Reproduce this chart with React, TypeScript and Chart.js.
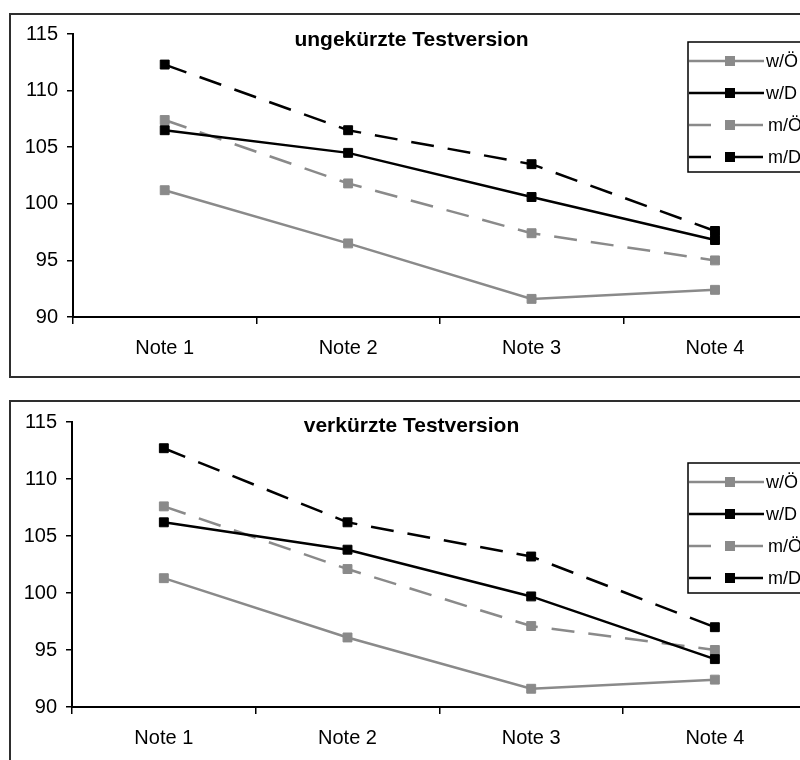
import React, { useEffect, useRef } from 'react';
import { Chart, registerables } from 'chart.js';

Chart.register(...registerables);

// Categories and series names
const categories = ['Note 1', 'Note 2', 'Note 3', 'Note 4'];
const seriesNames = ['w/Ö', 'w/D', 'm/Ö', 'm/D'];
const yMin = 90;
const yMax = 115;
const yStep = 5;

// ungekürzte Testversion
const fullWOe = [101.2, 96.5, 91.6, 92.4];
const fullWD = [106.5, 104.5, 100.6, 96.8];
const fullMOe = [107.4, 101.8, 97.4, 95.0];
const fullMD = [112.3, 106.5, 103.5, 97.6];

// verkürzte Testversion
const shortWOe = [101.3, 96.1, 91.6, 92.4];
const shortWD = [106.2, 103.8, 99.7, 94.2];
const shortMOe = [107.6, 102.1, 97.1, 95.0];
const shortMD = [112.7, 106.2, 103.2, 97.0];

const GRAY = '#8a8a8a';
const BLACK = '#000000';
const DASH = [23, 14];
const FONT = '"Liberation Sans", Arial, Helvetica, sans-serif';

const seriesStyles = [
  { color: GRAY, dash: [] as number[] },
  { color: BLACK, dash: [] as number[] },
  { color: GRAY, dash: DASH },
  { color: BLACK, dash: DASH },
];

type Layout = {
  width: number;
  height: number;
  plotLeft: number;
  plotTop: number;
  plotBottom: number;
  plotRight: number;
  titleY: number;
  legendX: number;
  legendY: number;
};

// Frame, title and boxed legend drawn around the plot
const framePlugin = {
  id: 'frame',
  beforeDraw(chart: any) {
    const { ctx, width, height } = chart;
    ctx.save();
    ctx.fillStyle = '#ffffff';
    ctx.fillRect(0, 0, width, height);
    ctx.strokeStyle = '#2e2e2e';
    ctx.lineWidth = 2;
    ctx.strokeRect(1, 1, width - 2, height - 2);
    ctx.restore();
  },
  afterDraw(chart: any, _args: any, opts: any) {
    const { ctx } = chart;
    ctx.save();
    ctx.font = `bold 21px ${FONT}`;
    ctx.fillStyle = '#000';
    ctx.textAlign = 'center';
    ctx.textBaseline = 'middle';
    ctx.fillText(opts.text, chart.width / 2, opts.titleY);

    const lx = opts.legendX;
    const ly = opts.legendY;
    ctx.fillStyle = '#fff';
    ctx.fillRect(lx, ly, 160, 130);
    ctx.strokeStyle = '#000';
    ctx.lineWidth = 1.5;
    ctx.strokeRect(lx, ly, 160, 130);

    chart.data.datasets.forEach((ds: any, i: number) => {
      const y = ly + 19 + i * 32;
      ctx.strokeStyle = ds.borderColor;
      ctx.lineWidth = ds.borderWidth;
      ctx.setLineDash([]);
      const dashed = ds.borderDash && ds.borderDash.length > 0;
      const segs = dashed ? [[1, 23], [46, 75]] : [[1, 76]];
      segs.forEach(([a, b]) => {
        ctx.beginPath();
        ctx.moveTo(lx + a, y);
        ctx.lineTo(lx + b, y);
        ctx.stroke();
      });
      ctx.fillStyle = ds.pointBackgroundColor;
      ctx.fillRect(lx + 42 - 5, y - 5, 10, 10);
      ctx.fillStyle = '#000';
      ctx.font = `18px ${FONT}`;
      ctx.textAlign = 'left';
      ctx.textBaseline = 'middle';
      ctx.fillText(ds.label, lx + (dashed ? 80 : 78), y + 1);
    });
    ctx.restore();
  },
};

function Panel({ title, series, layout, top }: { title: string; series: number[][]; layout: Layout; top: number }) {
  const ref = useRef<HTMLCanvasElement | null>(null);

  useEffect(() => {
    if (!ref.current) return;
    const L = layout;
    const chart = new Chart(ref.current, {
      type: 'line',
      data: {
        labels: categories,
        datasets: series.map((values, i) => ({
          label: seriesNames[i],
          data: values,
          borderColor: seriesStyles[i].color,
          backgroundColor: seriesStyles[i].color,
          borderWidth: 2.5,
          borderDash: seriesStyles[i].dash,
          pointStyle: 'rect',
          pointRadius: 6.3,
          pointBorderWidth: 1,
          pointBackgroundColor: seriesStyles[i].color,
          pointBorderColor: seriesStyles[i].color,
          tension: 0,
          fill: false,
        })),
      },
      options: {
        animation: false,
        responsive: false,
        devicePixelRatio: 1,
        layout: {
          padding: { left: 0, top: L.plotTop, right: L.width - L.plotRight, bottom: 0 },
        },
        plugins: {
          legend: { display: false },
          tooltip: { enabled: false },
          title: { display: false },
          frame: { text: title, titleY: L.titleY, legendX: L.legendX, legendY: L.legendY },
        } as any,
        scales: {
          x: {
            type: 'category',
            offset: true,
            grid: {
              offset: true,
              drawOnChartArea: false,
              drawTicks: true,
              tickLength: 7,
              tickColor: '#000',
              lineWidth: 1.5,
              color: '#000',
            },
            border: { display: true, color: '#000', width: 2 },
            ticks: {
              color: '#000',
              font: { family: FONT, size: 20 },
              padding: 12,
              maxRotation: 0,
              autoSkip: false,
            },
            afterFit: (s: any) => {
              s.height = L.height - L.plotBottom;
            },
          },
          y: {
            min: yMin,
            max: yMax,
            grid: {
              drawOnChartArea: false,
              drawTicks: true,
              tickLength: 6,
              tickColor: '#000',
              lineWidth: 1.5,
              color: '#000',
            },
            border: { display: true, color: '#000', width: 2 },
            ticks: {
              stepSize: yStep,
              color: '#000',
              font: { family: FONT, size: 20 },
              padding: 9,
            },
            afterFit: (s: any) => {
              s.width = L.plotLeft;
            },
          },
        },
      },
      plugins: [framePlugin as any],
    });
    return () => chart.destroy();
  }, [title, series, layout]);

  return (
    <canvas
      ref={ref}
      width={layout.width}
      height={layout.height}
      style={{ position: 'absolute', left: 9, top, width: layout.width, height: layout.height }}
    />
  );
}

const topLayout: Layout = {
  width: 805,
  height: 365,
  plotLeft: 64,
  plotTop: 20,
  plotBottom: 304,
  plotRight: 801,
  titleY: 27,
  legendX: 679,
  legendY: 29,
};

const bottomLayout: Layout = {
  width: 805,
  height: 365,
  plotLeft: 63,
  plotTop: 22,
  plotBottom: 307,
  plotRight: 801,
  titleY: 26,
  legendX: 679,
  legendY: 63,
};

const topSeries = [fullWOe, fullWD, fullMOe, fullMD];
const bottomSeries = [shortWOe, shortWD, shortMOe, shortMD];

export default function App() {
  return (
    <div
      style={{
        position: 'fixed',
        left: 0,
        top: 0,
        width: 800,
        height: 760,
        overflow: 'hidden',
        background: '#ffffff',
      }}
    >
      <Panel title="ungekürzte Testversion" series={topSeries} layout={topLayout} top={13} />
      <Panel title="verkürzte Testversion" series={bottomSeries} layout={bottomLayout} top={400} />
    </div>
  );
}
